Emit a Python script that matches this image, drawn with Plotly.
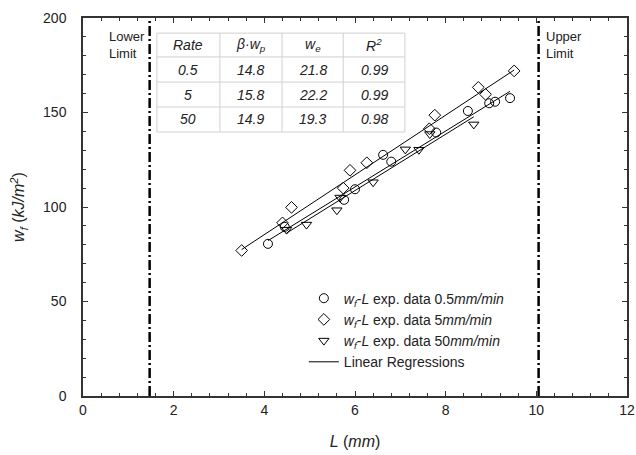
import plotly.graph_objects as go

# ---------------- data ----------------
L_05 = [4.08, 4.45, 5.76, 6.00, 6.62, 6.80, 7.79, 8.49, 8.96, 9.09, 9.42]
w_05 = [80.5, 89.5, 103.8, 109.4, 127.6, 124.0, 139.4, 150.8, 154.9, 155.7, 157.6]

L_5 = [3.50, 4.40, 4.60, 5.74, 5.89, 6.26, 7.64, 7.76, 8.72, 8.88, 9.51]
w_5 = [77.0, 91.6, 99.8, 110.0, 119.4, 123.4, 141.4, 148.6, 163.3, 159.6, 172.0]

L_50 = [4.49, 4.93, 5.60, 5.67, 6.40, 7.11, 7.41, 7.65, 8.62]
w_50 = [88.0, 90.7, 98.3, 105.0, 113.1, 130.5, 130.3, 138.6, 143.7]

rates = ["0.5", "5", "50"]
beta_wp = [14.8, 15.8, 14.9]
w_e = [21.8, 22.2, 19.3]
r2 = [0.99, 0.99, 0.98]

limits = [1.47, 10.05]
limit_labels = ["Lower<br>Limit", "Upper<br>Limit"]

x_ticks = [0, 2, 4, 6, 8, 10, 12]
y_ticks = [0, 50, 100, 150, 200]

FONT = "Liberation Sans, Arial, sans-serif"
TXT = "#222222"

fig = go.Figure()

series = [
    (L_05, w_05, "circle-open", "0.5"),
    (L_5, w_5, "diamond-open", "5"),
    (L_50, w_50, "triangle-down-open", "50"),
]
for xs, ys, sym, r in series:
    fig.add_trace(go.Scatter(
        x=xs, y=ys, mode="markers",
        marker=dict(symbol=sym, size=9, color="black", line=dict(width=1, color="black")),
        name=f"<i>w<sub>f</sub></i>-<i>L</i> exp. data {r}<i>mm/min</i>",
    ))

# regression lines over each series' data range
for i, (xs, ys, sym, r) in enumerate(series):
    x0, x1 = min(xs), max(xs)
    fig.add_trace(go.Scatter(
        x=[x0, x1], y=[w_e[i] + beta_wp[i] * x0, w_e[i] + beta_wp[i] * x1],
        mode="lines", line=dict(color="black", width=1),
        name="Linear Regressions", legendgroup="reg", showlegend=(i == 0),
    ))

shapes = []
annotations = []
for k, (lx, lab) in enumerate(zip(limits, limit_labels)):
    shapes.append(dict(type="line", xref="x", yref="y", x0=lx, x1=lx, y0=0, y1=200,
                       line=dict(color="black", width=2.5, dash="10px,3px,2px,3px")))
    annotations.append(dict(x=lx, y=195, xref="x", yref="y",
                            xanchor="right" if k == 0 else "left", yanchor="top",
                            xshift=-3 if k == 0 else 5, text=lab, showarrow=False, align="left",
                            font=dict(family=FONT, size=13, color=TXT)))

# table
col_edges = [1.63, 3.02, 4.39, 5.74, 7.10]
row_edges = [192.0, 179.4, 166.1, 152.9, 139.7]
for cx in col_edges:
    shapes.append(dict(type="line", xref="x", yref="y", x0=cx, x1=cx, y0=row_edges[-1], y1=row_edges[0],
                       line=dict(color="#d0d0d0", width=1)))
for ry in row_edges:
    shapes.append(dict(type="line", xref="x", yref="y", x0=col_edges[0], x1=col_edges[-1], y0=ry, y1=ry,
                       line=dict(color="#d0d0d0", width=1)))

header = ["<i>Rate</i>", "<i>β·w<sub>p</sub></i>", "<i>w<sub>e</sub></i>", "<i>R<sup>2</sup></i>"]
rows = [header] + [[f"<i>{rates[i]}</i>", f"<i>{beta_wp[i]:.1f}</i>", f"<i>{w_e[i]:.1f}</i>", f"<i>{r2[i]:.2f}</i>"]
                   for i in range(3)]
for ri, row in enumerate(rows):
    yc = (row_edges[ri] + row_edges[ri + 1]) / 2
    for ci, t in enumerate(row):
        xc = (col_edges[ci] + col_edges[ci + 1]) / 2
        annotations.append(dict(x=xc, y=yc, xref="x", yref="y", text=t, showarrow=False,
                                xanchor="center", yanchor="middle",
                                font=dict(family=FONT, size=14, color=TXT)))

axis_common = dict(
    showgrid=False, zeroline=False, showline=True, linecolor="#333333", linewidth=1.5,
    mirror="ticks", ticks="inside", ticklen=5, tickwidth=1, tickcolor="#333333",
    tickfont=dict(family=FONT, size=14, color=TXT), automargin=False,
)

fig.update_layout(
    width=636, height=455,
    margin=dict(l=83, r=9, t=18, b=59),
    paper_bgcolor="white", plot_bgcolor="white",
    font=dict(family=FONT, color=TXT),
    xaxis=dict(range=[0, 12], tickvals=x_ticks, **axis_common,
               minor=dict(dtick=0.4, ticks="inside", ticklen=3, tickcolor="#333333"),
               title=dict(text="<i>L</i> (<i>mm</i>)", font=dict(family=FONT, size=16, color=TXT), standoff=19)),
    yaxis=dict(range=[0, 200], tickvals=y_ticks, **axis_common, ticklabelstandoff=12,
               minor=dict(dtick=10, ticks="inside", ticklen=3, tickcolor="#333333"),
               title=dict(text="<i>w<sub>f</sub></i> (<i>kJ/m<sup>2</sup></i>)",
                          font=dict(family=FONT, size=16, color=TXT), standoff=14)),
    legend=dict(x=0.406, y=0.30, xanchor="left", yanchor="top", bgcolor="rgba(0,0,0,0)",
                font=dict(family=FONT, size=14, color=TXT), tracegroupgap=0),
    shapes=shapes, annotations=annotations,
    showlegend=True,
)

fig.write_html("out.html", config={"displayModeBar": False},
               post_script="document.body.style.margin='0px';")
